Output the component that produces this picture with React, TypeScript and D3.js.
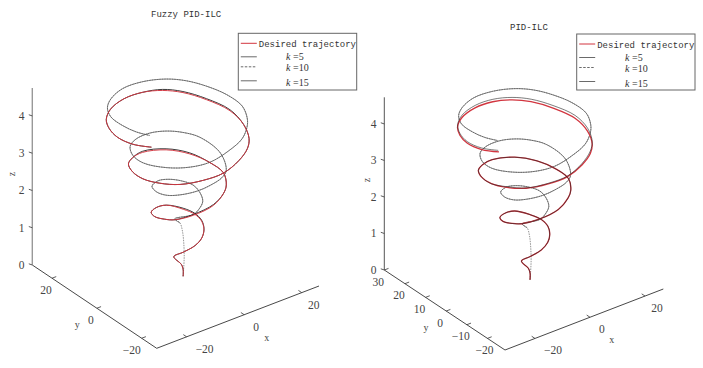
import React from 'react';
import * as d3 from 'd3';

type P3 = [number, number, number];

const xTicks = [-20, 0, 20];
const yTicksFuzzy = [-20, 0, 20];
const yTicksPid = [-20, -10, 0, 10, 20, 30];
const zTicks = [0, 1, 2, 3, 4];
const legendRuns = ['=5', '=10', '=15'];

// x, y, z
const desired: P3[] = [
  [-0.8, -0.5, 0], [-0.1, 0.4, 0.12], [0, 1.3, 0.22], [-0.7, 3.8, 0.35], [1, 1.8, 0.5], [3.3, -0.5, 0.7],
  [4.9, -1.5, 0.9], [5.4, -1.8, 1.12], [6.1, 0.1, 1.25], [5.5, 2.4, 1.36], [3.5, 5, 1.45], [-0.1, 7.9, 1.55],
  [-4, 7.4, 1.62], [-7.4, 5.3, 1.68], [-8.9, 1.8, 1.75], [-8.8, -2.5, 1.85], [-7.6, -5.5, 1.92], [-3.3, -8.2, 2.02],
  [2.9, -9.3, 2.15], [7.5, -7.9, 2.28], [9.6, -6.4, 2.38], [11.5, -2.7, 2.5], [10.4, 2, 2.62], [7.6, 7.3, 2.72],
  [2.5, 11.3, 2.82], [-4.8, 12.5, 2.92], [-9.5, 10.9, 2.98], [-13.2, 8, 3.04], [-15.6, 3.1, 3.1], [-16.5, -2.7, 3.17],
  [-15.1, -8.4, 3.24], [-12, -13.5, 3.32], [-6.4, -16.8, 3.4], [-0.5, -18.1, 3.47], [6, -16.6, 3.55], [11, -14, 3.62],
  [14, -10.9, 3.68], [16.5, -5.3, 3.75], [17.2, 1.7, 3.82], [14.8, 9.1, 3.89], [11.2, 15, 3.95], [6.8, 18.4, 4],
  [1.1, 20.1, 4.05], [-5.7, 19.6, 4.1], [-12.7, 16.6, 4.15], [-17.7, 12.1, 4.2], [-20.6, 7.1, 4.25], [-22.3, 1.2, 4.3],
  [-21.8, -5.1, 4.35], [-19.3, -10.1, 4.4],
];

// the strand that rises straight up first and runs half a turn ahead
const earlyRun: P3[] = [
  [-0.8, -0.5, 0], [-0.1, 0.2, 0.13], [0.5, 0.7, 0.45], [0.5, 0.9, 0.8], [0.6, 1.6, 1.08], [0.5, 2.6, 1.27],
  [-0.7, 3.4, 1.38], [3.1, 0, 1.52], [5.1, -0.1, 1.62], [6.4, 0, 1.78], [6.9, 1.9, 1.92], [6.4, 4.3, 2.04],
  [4, 6.4, 2.14], [0.3, 7.7, 2.24], [-3.5, 7.4, 2.32], [-7.5, 4.8, 2.4], [-9.2, 0.7, 2.47], [-9.1, -3.7, 2.55],
  [-7, -7, 2.63], [-2.9, -9.3, 2.7], [1.1, -10.1, 2.77], [5.5, -9.8, 2.84], [8.1, -8.3, 2.9], [11, -1.9, 3.02],
  [10.4, 6.4, 3.12], [7.3, 9.9, 3.2], [3.3, 12.3, 3.26], [-1.9, 13.2, 3.32], [-7.6, 11.9, 3.38], [-11.9, 8.9, 3.44],
  [-15, 3.8, 3.5], [-16, -2.1, 3.56], [-13.4, -9.2, 3.64], [-9, -14.1, 3.72], [-3.6, -16.2, 3.78], [3.4, -15.5, 3.85],
  [9.4, -13.7, 3.92], [13.7, -10.4, 3.98], [16, -7.5, 4.03], [18, -2.7, 4.1], [17.6, 3.7, 4.16], [15.2, 9.6, 4.22],
  [11.9, 14.4, 4.27], [7.5, 17.8, 4.31], [0.8, 19.7, 4.36], [-6.6, 19.2, 4.41], [-13.2, 15.9, 4.46], [-17.3, 12.1, 4.5],
  [-20.1, 7, 4.55], [-21, 0.6, 4.6], [-20.7, -5.1, 4.65], [-19.5, -9.6, 4.7],
];

// fuzzy k=15 hugs the desired path, a hair off on the back arcs
const fuzzyLate: P3[] = [
  ...desired.slice(0, 7),
  [5.6, -1.6, 1.13], [6.3, 0.4, 1.26], [5.7, 2.7, 1.37], [3.7, 5.3, 1.46],
  ...desired.slice(11, 17),
  [-3.1, -8, 2.03], [3.1, -9.1, 2.16],
  ...desired.slice(19, 23),
  [7.8, 7.6, 2.73], [2.7, 11.6, 2.83], [-4.6, 12.8, 2.93],
  ...desired.slice(26, 38),
  [17.4, 2, 3.83], [15, 9.4, 3.9], [11.4, 15.3, 3.96], [7, 18.7, 4.01],
  ...desired.slice(42),
];

// PID k=15 drifts off the desired path on the upper loops
const pidLate: P3[] = [
  ...desired.slice(0, 30),
  [-15, -8.5, 3.26], [-11.9, -13.6, 3.33], [-6.2, -16.9, 3.42], [-0.2, -18.2, 3.5], [6.2, -16.5, 3.59], [11.2, -13.7, 3.67],
  [14.3, -10.5, 3.73], [16.9, -4.8, 3.8], [17.7, 2.3, 3.86], [15.3, 9.8, 3.92], [11.7, 15.6, 3.98], [7.3, 19, 4.03],
  [1.6, 20.7, 4.08], [-5.2, 20.2, 4.13], [-12.2, 17.2, 4.18], [-17.2, 12.7, 4.23], [-20.2, 7.6, 4.27], [-22, 1.7, 4.32],
  [-21.6, -4.6, 4.37], [-19.2, -9.6, 4.42],
];

const FONT_SERIF = '"Liberation Serif", serif';
const FONT_MONO = '"Liberation Mono", monospace';
const INK = '#444';
const RED = '#d2353f';

const fuzzyPanel = {
  title: 'Fuzzy PID-ILC', titleAt: [151, 17],
  corner: [156.7, 348.3], xEnd: [319, 286], yEnd: [32.3, 265], zTop: [32.3, 88],
  xDomain: [-30.4, 26], yDomain: [-26.7, 28.8], zMax: 4.75,
  yTicks: yTicksFuzzy, yLowNudge: -4, zAxis: { stroke: '#999', width: 1.4 },
  zLabelX: 21.7, xName: [266.7, 338], yName: [77.3, 325], zName: [11.7, 174],
  box: [238.3, 33.3, 118.4, 56.7], legendK: 286, lateOnTop: false,
  k15: fuzzyLate,
};

const pidPanel = {
  title: 'PID-ILC', titleAt: [510, 30],
  corner: [505, 350], xEnd: [663.3, 289], yEnd: [384.3, 270], zTop: [384.3, 97.3],
  xDomain: [-30.9, 26.65], yDomain: [-28.5, 30], zMax: 4.73,
  yTicks: yTicksPid, yLowNudge: 3, zAxis: { stroke: '#555', width: 1 },
  zLabelX: 373.5, xName: [611.7, 340], yName: [426, 328], zName: [367.3, 180],
  box: [576.7, 34, 118.3, 56], legendK: 625, lateOnTop: true,
  k15: pidLate,
};

function Panel({ cfg }: { cfg: typeof fuzzyPanel }) {
  const { corner, xEnd, yEnd, zTop, box } = cfg;
  const sx = d3.scaleLinear().domain(cfg.xDomain).range([0, 1]);
  const sy = d3.scaleLinear().domain(cfg.yDomain).range([0, 1]);
  const sz = d3.scaleLinear().domain([0, cfg.zMax]).range([0, 1]);

  // oblique projection along the three drawn axes
  const project = ([x, y, z]: P3): [number, number] => [
    corner[0] + sx(x) * (xEnd[0] - corner[0]) + sy(y) * (yEnd[0] - corner[0]) + sz(z) * (zTop[0] - yEnd[0]),
    corner[1] + sx(x) * (xEnd[1] - corner[1]) + sy(y) * (yEnd[1] - corner[1]) + sz(z) * (zTop[1] - yEnd[1]),
  ];
  const path3 = d3.line<P3>()
    .x(d => project(d)[0])
    .y(d => project(d)[1])
    .curve(d3.curveCatmullRom.alpha(0.5));

  const xMin = cfg.xDomain[0];
  const yMin = cfg.yDomain[0];
  const fmt = d3.format('d');
  const tickText = { fontFamily: FONT_SERIF, fontSize: 11.5, fill: INK, textAnchor: 'middle' as const };
  const top = box[1];
  const lx = box[0] + 2.5;
  const lineRows = [top + 23.5, top + 33.5, top + 47.5];
  const textRows = [top + 26.5, top + 38, top + 52.5];

  const red = <path d={path3(desired) ?? ''} fill="none" stroke={RED} strokeWidth={cfg.lateOnTop ? 1.3 : 0.95} />;
  const late = (
    <path d={path3(cfg.k15) ?? ''} fill="none" stroke="#222"
      strokeWidth={cfg.lateOnTop ? 0.7 : 0.9} strokeOpacity={cfg.lateOnTop ? 0.85 : 1} />
  );

  return (
    <g>
      <text x={cfg.titleAt[0]} y={cfg.titleAt[1]} fontFamily={FONT_MONO} fontSize={9} fill="#333">{cfg.title}</text>

      <line x1={corner[0]} y1={corner[1]} x2={xEnd[0]} y2={xEnd[1]} stroke="#333" strokeWidth={0.9} />
      <line x1={corner[0]} y1={corner[1]} x2={yEnd[0]} y2={yEnd[1]} stroke="#333" strokeWidth={0.9} />
      <line x1={yEnd[0]} y1={yEnd[1]} x2={zTop[0]} y2={zTop[1]} stroke={cfg.zAxis.stroke} strokeWidth={cfg.zAxis.width} />

      {xTicks.map(t => {
        const [px, py] = project([t, yMin, 0]);
        return (
          <g key={t}>
            <line x1={px} y1={py} x2={px - 3.3} y2={py - 2.2} stroke="#333" strokeWidth={0.8} />
            <text x={px + (t < 0 ? 18 : 12)} y={py + 16} {...tickText}>{fmt(t)}</text>
          </g>
        );
      })}
      {cfg.yTicks.map(t => {
        const [px, py] = project([xMin, t, 0]);
        return (
          <g key={t}>
            <line x1={px} y1={py} x2={px + 4.2} y2={py - 1.6} stroke="#333" strokeWidth={0.8} />
            <text x={px - 6 + (t === -20 ? cfg.yLowNudge : 0)} y={py + 15.5} {...tickText}>{fmt(t)}</text>
          </g>
        );
      })}
      {zTicks.map(t => {
        const [px, py] = project([xMin, cfg.yDomain[1], t]);
        return (
          <g key={t}>
            <line x1={px} y1={py} x2={px - 3.5} y2={py - 1.2} stroke="#333" strokeWidth={0.8} />
            <text x={cfg.zLabelX} y={py + 4} {...tickText}>{fmt(t)}</text>
          </g>
        );
      })}
      <text x={cfg.xName[0]} y={cfg.xName[1] + 3} {...tickText} fontSize={10}>x</text>
      <text x={cfg.yName[0]} y={cfg.yName[1] + 3} {...tickText} fontSize={10}>y</text>
      <text transform={`translate(${cfg.zName[0] + 3},${cfg.zName[1]}) rotate(-90)`} {...tickText} fontSize={10}>z</text>

      {/* k=10 alone shows on the first rise, which reads as dotted in the reference */}
      <path d={path3(earlyRun) ?? ''} fill="none" stroke="#666" strokeWidth={0.7} strokeDasharray="1.5 1" />
      <path d={path3(earlyRun.slice(5)) ?? ''} fill="none" stroke="#555" strokeWidth={0.7} />
      {cfg.lateOnTop ? red : late}
      {cfg.lateOnTop ? late : red}

      <rect x={box[0]} y={box[1]} width={box[2]} height={box[3]} fill="#fff" stroke="#666" strokeWidth={1} />
      <line x1={lx} y1={top + 10} x2={lx + 16} y2={top + 10} stroke={RED} strokeWidth={1} />
      <text x={lx + 18} y={top + 14} fontFamily={FONT_MONO} fontSize={9} fill="#333">Desired trajectory</text>
      {legendRuns.map((label, i) => (
        <g key={label}>
          <line x1={lx} y1={lineRows[i]} x2={lx + 16} y2={lineRows[i]} stroke="#444" strokeWidth={0.8}
            strokeDasharray={i === 1 ? '2.5 1.5' : undefined} />
          <text x={cfg.legendK} y={textRows[i]} fontFamily={FONT_SERIF} fontStyle="italic" fontSize={10} fill="#333">k</text>
          <text x={cfg.legendK + 7} y={textRows[i]} fontFamily={FONT_SERIF} fontSize={10} fill="#333">{label}</text>
        </g>
      ))}
    </g>
  );
}

export default function App() {
  return (
    <svg width={703} height={368} style={{ position: 'absolute', left: 0, top: 0, background: '#fff' }}>
      <Panel cfg={fuzzyPanel} />
      <Panel cfg={pidPanel} />
    </svg>
  );
}
